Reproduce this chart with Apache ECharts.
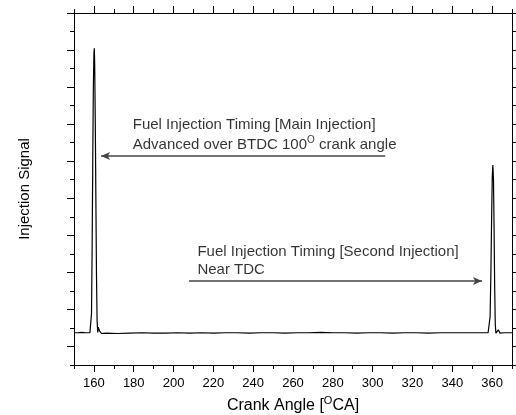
<!DOCTYPE html>
<html>
<head>
<meta charset="utf-8">
<script src="https://cdn.jsdelivr.net/npm/echarts@6/dist/echarts.min.js"></script>
<style>
html,body{margin:0;padding:0;background:#fff;}
#chart{width:516px;height:415px;}
</style>
</head>
<body>
<div id="chart"></div>
<script>
// ---- data ----
var crankAngle = [150,152,154,156,157,158,158.5,158.8,159.1,159.4,159.7,160.0,160.2,160.4,160.7,161.0,161.3,161.6,161.9,162.2,162.5,162.8,163.2,163.8,164.5,
  166,172,178,184,190,196,202,208,214,220,226,232,238,244,250,256,262,268,274,280,286,292,298,304,310,316,322,328,334,340,346,352,
  356,358,358.6,359.0,359.4,359.8,360.1,360.4,360.7,361.0,361.3,361.6,361.9,362.3,362.7,363.1,363.5,364,366,368,370];
var injectionSignal = [0.37,0.37,0.38,0.37,0.37,0.37,0.39,0.9,2.6,4.8,6.9,7.9,8.05,7.6,6.0,3.9,1.9,0.7,0.38,0.52,0.47,0.42,0.38,0.35,0.36,
  0.36,0.35,0.36,0.37,0.36,0.36,0.37,0.36,0.37,0.36,0.37,0.37,0.36,0.37,0.37,0.36,0.37,0.37,0.38,0.37,0.37,0.36,0.37,0.37,0.36,0.37,0.37,0.36,0.37,0.37,0.37,0.37,
  0.37,0.37,0.38,0.8,2.0,3.6,4.6,4.9,4.5,3.2,1.6,0.6,0.36,0.34,0.40,0.45,0.40,0.36,0.37,0.37,0.37];
var xMajorTicks = [160,180,200,220,240,260,280,300,320,340,360];
var xMinorTicks = [150,170,190,210,230,250,270,290,310,330,350,370];
var yMajorTicks = [0,1,2,3,4,5,6,7,8,9];
var yMinorTicks = [-0.5,0.5,1.5,2.5,3.5,4.5,5.5,6.5,7.5,8.5];
var xTitle = 'Crank Angle [{s|O}CA]';
var yTitle = 'Injection Signal';
var note1Lines = ['Fuel Injection Timing [Main Injection]', 'Advanced over BTDC 100', 'O', ' crank angle'];
var note2Lines = ['Fuel Injection Timing [Second Injection]', 'Near TDC'];
var note1Pos = [179.5, 5.71];
var note2Pos = [212, 2.32];
var arrow1 = [[306.3, 5.14], [163.6, 5.14]];
var arrow2 = [[207.8, 1.77], [354.9, 1.77]];

// ---- chart ----
var FF = '"Liberation Sans", Arial, Helvetica, sans-serif';
var chart = echarts.init(document.getElementById('chart'), null, {renderer: 'canvas'});
var lineData = crankAngle.map(function (x, i) { return [x, injectionSignal[i]]; });

function xAx(pos, ticks, len, main) {
  return {
    type: 'value', min: 150, max: 370, position: pos, gridIndex: 0,
    axisLine: {show: main, onZero: false, lineStyle: {color: '#000', width: 1}},
    axisTick: {show: true, inside: false, length: len, customValues: ticks, lineStyle: {color: '#000', width: 1}},
    axisLabel: {show: main && pos === 'bottom', customValues: xMajorTicks, color: '#000', fontSize: 13, fontFamily: FF, margin: 12},
    splitLine: {show: false}
  };
}
function yAx(pos, ticks, len, main) {
  return {
    type: 'value', min: -0.5, max: 9, position: pos, gridIndex: 0,
    axisLine: {show: main, onZero: false, lineStyle: {color: '#000', width: 1}},
    axisTick: {show: true, inside: false, length: len, customValues: ticks, lineStyle: {color: '#000', width: 1}},
    axisLabel: {show: false},
    splitLine: {show: false}
  };
}

var xs = [xAx('bottom', xMajorTicks, 7, true), xAx('bottom', xMinorTicks, 4, false), xAx('top', xMajorTicks, 7, true), xAx('top', xMinorTicks, 4, false)];
xs[0].name = xTitle;
xs[0].nameLocation = 'middle';
xs[0].nameGap = 30;
xs[0].nameTextStyle = {fontSize: 16, lineHeight: 22, color: '#000', fontFamily: FF, rich: {s: {fontSize: 11, lineHeight: 10, verticalAlign: 'top', color: '#000', fontFamily: FF}}};
var ys = [yAx('left', yMajorTicks, 7, true), yAx('left', yMinorTicks, 4, false), yAx('right', yMajorTicks, 7, true), yAx('right', yMinorTicks, 4, false)];
ys[0].name = yTitle;
ys[0].nameLocation = 'middle';
ys[0].nameGap = 42;
ys[0].nameRotate = 90;
ys[0].nameTextStyle = {fontSize: 15, color: '#000', fontFamily: FF};

var noteRich = {
  a: {fontSize: 15, lineHeight: 20, color: '#000', fontFamily: FF},
  b: {fontSize: 15, lineHeight: 18, color: '#000', fontFamily: FF},
  s: {fontSize: 10, lineHeight: 12, verticalAlign: 'top', color: '#000', fontFamily: FF}
};

var option = {
  animation: false,
  backgroundColor: '#fff',
  grid: {left: 74, right: 4, top: 13, bottom: 50, containLabel: false, outerBoundsMode: 'none'},
  xAxis: xs,
  yAxis: ys,
  series: [
    {
      type: 'line', xAxisIndex: 0, yAxisIndex: 0, data: lineData, showSymbol: false, symbol: 'none',
      lineStyle: {color: '#000', width: 1.2}, silent: true,
      markLine: {
        silent: true, symbol: ['none', 'arrow'], symbolSize: [6, 9],
        lineStyle: {color: '#444', width: 1.5, type: 'solid'},
        label: {show: false},
        data: [
          [{coord: arrow1[0]}, {coord: arrow1[1]}],
          [{coord: arrow2[0]}, {coord: arrow2[1]}]
        ]
      }
    },
    {
      type: 'scatter', xAxisIndex: 0, yAxisIndex: 0, symbolSize: 0, silent: true,
      data: [note1Pos],
      label: {
        show: true, position: 'right', distance: 0,
        formatter: '{a|' + note1Lines[0] + '}\n{a|' + note1Lines[1] + '}{s|' + note1Lines[2] + '}{a|' + note1Lines[3] + '}',
        rich: noteRich
      }
    },
    {
      type: 'scatter', xAxisIndex: 0, yAxisIndex: 0, symbolSize: 0, silent: true,
      data: [note2Pos],
      label: {
        show: true, position: 'right', distance: 0,
        formatter: '{b|' + note2Lines[0] + '}\n{b|' + note2Lines[1] + '}',
        rich: noteRich
      }
    }
  ]
};
chart.setOption(option);
</script>
</body>
</html>
